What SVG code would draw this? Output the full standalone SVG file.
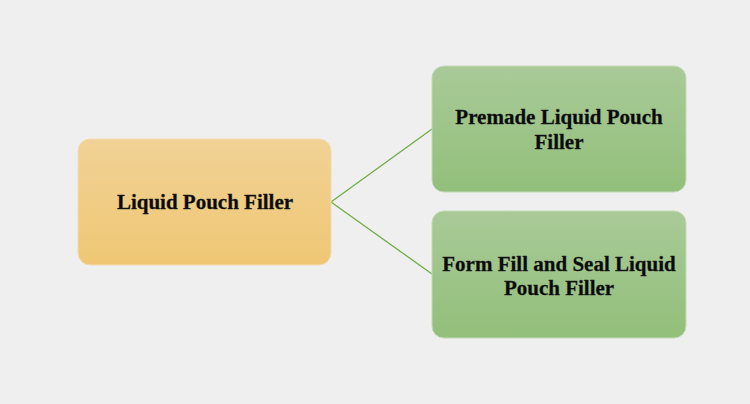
<svg xmlns="http://www.w3.org/2000/svg" width="750" height="404" viewBox="0 0 750 404">
<defs>
<linearGradient id="gOr" x1="0" y1="0" x2="0" y2="1"><stop offset="0" stop-color="#f1d296"/><stop offset="1" stop-color="#efc774"/></linearGradient>
<linearGradient id="gGr" x1="0" y1="0" x2="0" y2="1"><stop offset="0" stop-color="#a9ca98"/><stop offset="1" stop-color="#92bf7a"/></linearGradient>
<style>
.t{font-family:"Liberation Serif","Times New Roman",serif;font-weight:bold;font-size:21px;fill:#0a0a0a;stroke:#222;stroke-width:0.3;text-anchor:middle}
.c{stroke:#70ad47;stroke-width:1.3;fill:none}
</style>
</defs>
<rect width="750" height="404" fill="#efefef"/>
<g id="connectors">
<line class="c" x1="331" y1="202" x2="432" y2="129"/>
<line class="c" x1="331" y1="202" x2="432" y2="274"/>
</g>
<g id="root">
<rect x="78" y="139" width="253" height="126" rx="12" fill="url(#gOr)" stroke="#f0dcb4" stroke-width="1"/>
<text class="t" x="205" y="209">Liquid Pouch Filler</text>
</g>
<g id="premade">
<rect x="432" y="66" width="254" height="126" rx="12" fill="url(#gGr)" stroke="#c4dab8" stroke-width="1"/>
<text class="t" x="559" y="124">Premade Liquid Pouch</text>
<text class="t" x="559" y="149">Filler</text>
</g>
<g id="ffs">
<rect x="432" y="211" width="254" height="127" rx="12" fill="url(#gGr)" stroke="#c4dab8" stroke-width="1"/>
<text class="t" x="559" y="271">Form Fill and Seal Liquid</text>
<text class="t" x="559" y="295">Pouch Filler</text>
</g>
</svg>
